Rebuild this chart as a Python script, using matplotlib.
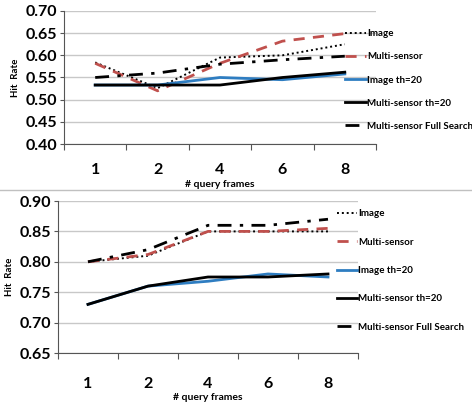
import numpy as np
import matplotlib.pyplot as plt
from matplotlib.lines import Line2D

frames = ["1", "2", "4", "6", "8"]
labels = ["Image", "Multi-sensor", "Image th=20", "Multi-sensor th=20",
          "Multi-sensor Full Search"]

# top panel
top_image = [0.584, 0.526, 0.595, 0.600, 0.625]
top_multi = [0.582, 0.520, 0.582, 0.632, 0.649]
top_image_th = [0.533, 0.533, 0.550, 0.545, 0.558]
top_multi_th = [0.533, 0.533, 0.533, 0.550, 0.562]
top_full = [0.550, 0.560, 0.580, 0.590, 0.598]

# bottom panel
bot_image = [0.800, 0.810, 0.850, 0.850, 0.850]
bot_multi = [0.800, 0.812, 0.850, 0.850, 0.855]
bot_image_th = [0.730, 0.760, 0.768, 0.780, 0.775]
bot_multi_th = [0.730, 0.760, 0.775, 0.775, 0.780]
bot_full = [0.800, 0.820, 0.860, 0.860, 0.870]

RED = "#c0504d"
BLUE = "#2e7dc1"

styles = [
    dict(color="black", lw=1.4, linestyle=(0, (1, 1.5))),
    dict(color=RED, lw=2.0, linestyle=(0, (4, 3))),
    dict(color=BLUE, lw=2.0, linestyle="-"),
    dict(color="black", lw=2.0, linestyle="-"),
    dict(color="black", lw=2.0, linestyle=(0, (5, 3, 1.2, 3))),
]

plt.rcParams['font.family'] = ['Lato', 'DejaVu Sans']
plt.rcParams['font.weight'] = 'bold'

W, H = 472, 407
fig = plt.figure(figsize=(W / 100, H / 100), dpi=100)


def px_axes(l, t, r, b):
    return fig.add_axes([l / W, (H - b) / H, (r - l) / W, (b - t) / H])


def draw(ax, series, ylim, yticks, leg_anchor, spacing, xpad):
    x = np.arange(len(frames))
    for vals, st in zip(series, styles):
        ax.plot(x, vals, **st)
    ax.set_xlim(-0.5, len(frames) - 0.5)
    ax.set_ylim(*ylim)
    ax.set_yticks(yticks)
    ax.set_yticklabels(["%.2f" % v for v in yticks], fontsize=11.5,
                       fontweight='bold')
    ax.set_xticks(np.arange(len(frames) + 1) - 0.5)
    ax.set_xticklabels([])
    ax.set_xticks(x, minor=True)
    ax.set_xticklabels(frames, minor=True, fontsize=11.5, fontweight='bold')
    ax.tick_params(axis='x', which='minor', length=0, pad=xpad)
    ax.tick_params(axis='x', which='major', length=4, color="#555555",
                   direction='out')
    ax.tick_params(axis='y', length=3, color="#555555", pad=2)
    ax.grid(axis='y', color="#c8c8c8", lw=1)
    ax.set_axisbelow(True)
    for s in ['top', 'right']:
        ax.spines[s].set_visible(False)
    for s in ['left', 'bottom']:
        ax.spines[s].set_color("#555555")
    ax.set_ylabel("Hit  Rate", fontsize=7, fontweight='bold', labelpad=4)
    ax.set_xlabel("# query frames", fontsize=7.5, fontweight='bold',
                  labelpad=2)
    handles = [Line2D([], [], **st) for st in styles]
    ax.legend(handles, labels, loc='upper left',
              bbox_to_anchor=leg_anchor, frameon=False,
              handlelength=2.1, handletextpad=0.1,
              labelspacing=spacing, borderpad=0, borderaxespad=0,
              prop={'size': 7, 'weight': 'bold'})


ax1 = px_axes(64, 11, 376, 144)
draw(ax1, [top_image, top_multi, top_image_th, top_multi_th, top_full],
     (0.40, 0.70), np.arange(0.40, 0.701, 0.05), (0.902, 0.862), 1.45, 14)

ax2 = px_axes(58, 201, 358, 353)
draw(ax2, [bot_image, bot_multi, bot_image_th, bot_multi_th, bot_full],
     (0.65, 0.90), np.arange(0.65, 0.901, 0.05), (0.93, 0.947), 2.0, 17)

fig.add_artist(Line2D([0, 1], [1 - 190 / H, 1 - 190 / H],
                      color="#c0c0c0", lw=1))

fig.savefig("out.png", dpi=100)
